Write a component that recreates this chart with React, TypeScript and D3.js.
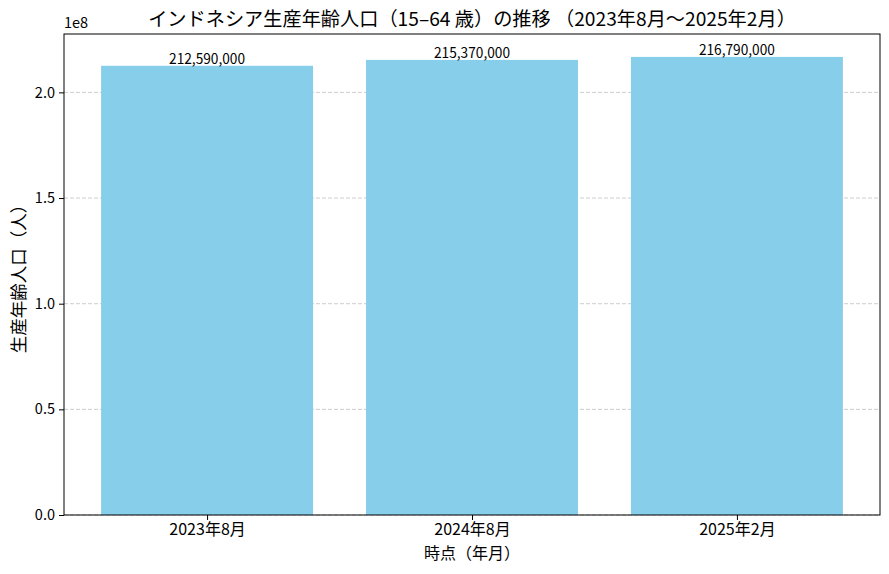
import { useEffect, useRef } from "react";
import * as d3 from "d3";

const categories = ["2023年8月", "2024年8月", "2025年2月"];
const values = [212590000, 215370000, 216790000];
const yTicks = [0, 0.5e8, 1.0e8, 1.5e8, 2.0e8];

const FONT = "'Noto Sans CJK JP', 'Noto Sans', sans-serif";

export default function App() {
  const ref = useRef<SVGSVGElement>(null);

  useEffect(() => {
    if (!ref.current) return;
    const svg = d3.select(ref.current);
    svg.selectAll("*").remove();

    const width = 889;
    const height = 574;
    const margin = { top: 34, right: 9, bottom: 59, left: 64 };
    const innerWidth = width - margin.left - margin.right;
    const innerHeight = height - margin.top - margin.bottom;

    const g = svg
      .append("g")
      .attr("transform", `translate(${margin.left},${margin.top})`);

    // categorical positions like matplotlib: bar width 0.8, 5% margins
    const x = d3.scaleLinear().domain([-0.54, 2.54]).range([0, innerWidth]);
    const yMax = (d3.max(values) ?? 0) * 1.05;
    const y = d3.scaleLinear().domain([0, yMax]).range([innerHeight, 0]);

    // grid
    g.selectAll(".grid")
      .data(yTicks)
      .join("line")
      .attr("x1", 0)
      .attr("x2", innerWidth)
      .attr("y1", (d) => y(d))
      .attr("y2", (d) => y(d))
      .attr("stroke", "#b0b0b0")
      .attr("stroke-opacity", 0.8)
      .attr("stroke-dasharray", "4,2")
      .attr("stroke-width", 0.8);

    // bars
    g.selectAll(".bar")
      .data(values)
      .join("rect")
      .attr("x", (_, i) => x(i - 0.4))
      .attr("y", (d) => y(d))
      .attr("width", x(0.8) - x(0))
      .attr("height", (d) => innerHeight - y(d))
      .attr("fill", "#87CEEB");

    // value labels
    g.selectAll(".label")
      .data(values)
      .join("text")
      .attr("x", (_, i) => x(i))
      .attr("y", (d) => y(d) - 2)
      .attr("text-anchor", "middle")
      .attr("font-family", FONT)
      .attr("font-size", "14.5px")
      .attr("textLength", 76)
      .attr("lengthAdjust", "spacingAndGlyphs")
      .attr("fill", "#000")
      .text((d) => d3.format(",")(d));

    // x axis
    const xAxis = g
      .append("g")
      .attr("transform", `translate(0,${innerHeight})`)
      .call(
        d3
          .axisBottom(x)
          .tickValues([0, 1, 2])
          .tickFormat((d) => categories[d as number])
          .tickSizeOuter(0)
          .tickSize(5)
          .tickPadding(4)
      );
    xAxis.select(".domain").remove();
    xAxis
      .selectAll("text")
      .attr("font-family", FONT)
      .attr("font-size", "16px")
      .attr("fill", "#000");

    // y axis
    const yAxis = g
      .append("g")
      .call(
        d3
          .axisLeft(y)
          .tickValues(yTicks)
          .tickFormat((d) => ((d as number) / 1e8).toFixed(1))
          .tickSizeOuter(0)
          .tickSize(5)
          .tickPadding(4)
      );
    yAxis.select(".domain").remove();
    yAxis
      .selectAll("text")
      .attr("font-family", FONT)
      .attr("font-size", "14.5px")
      .attr("fill", "#000");

    // frame
    g.append("rect")
      .attr("x", 0)
      .attr("y", 0)
      .attr("width", innerWidth)
      .attr("height", innerHeight)
      .attr("fill", "none")
      .attr("stroke", "#000")
      .attr("stroke-width", 1);

    // offset text
    g.append("text")
      .attr("x", 0)
      .attr("y", -6)
      .attr("font-family", FONT)
      .attr("font-size", "14.5px")
      .text("1e8");

    // title
    svg
      .append("text")
      .attr("x", margin.left + innerWidth / 2)
      .attr("y", 26)
      .attr("text-anchor", "middle")
      .attr("font-family", FONT)
      .attr("font-size", "19.2px")
      .text("インドネシア生産年齢人口（15–64 歳）の推移 （2023年8月〜2025年2月）");

    // axis labels
    svg
      .append("text")
      .attr("x", margin.left + innerWidth / 2)
      .attr("y", 559)
      .attr("text-anchor", "middle")
      .attr("font-family", FONT)
      .attr("font-size", "16px")
      .text("時点（年月）");

    svg
      .append("text")
      .attr("transform", `translate(25,${margin.top + innerHeight / 2}) rotate(-90)`)
      .attr("text-anchor", "middle")
      .attr("font-family", FONT)
      .attr("font-size", "17.5px")
      .text("生産年齢人口（人）");
  }, []);

  return (
    <svg
      ref={ref}
      width={889}
      height={574}
      style={{ position: "absolute", left: 0, top: 0, background: "#fff" }}
    />
  );
}
